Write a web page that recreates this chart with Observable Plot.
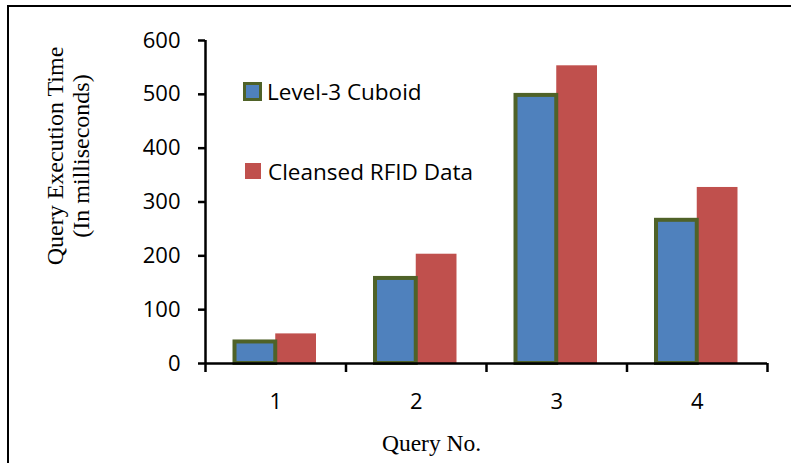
<!DOCTYPE html>
<html>
<head>
<meta charset="utf-8">
<script src="https://cdn.jsdelivr.net/npm/d3@7"></script>
<script src="https://cdn.jsdelivr.net/npm/@observablehq/plot@0.6"></script>
<style>
  html, body { margin: 0; padding: 0; background: #fff; overflow: hidden; }
  #wrap { position: relative; width: 791px; height: 463px; overflow: hidden; }
  #frame { position: absolute; left: 7px; top: 5px; width: 900px; height: 600px; border: 2px solid #000; pointer-events: none; }
  #chart { position: absolute; left: 0; top: 0; }
  .leg { position: absolute; font-family: "Open Sans", sans-serif; font-size: 22.5px; color: #000; display: flex; align-items: center; white-space: nowrap; }
  .sw { box-sizing: border-box; margin-right: 5px; }
</style>
</head>
<body>
<div id="wrap">
  <div id="chart"></div>
  <div id="frame"></div>
  <div class="leg" style="left:243px; top:76px; height:30px;"><div class="sw" style="width:19px;height:19px;background:#4F81BD;border:3px solid #4F6228;"></div><span id="l1"></span></div>
  <div class="leg" style="left:245px; top:156px; height:30px;"><div class="sw" style="width:16px;height:16px;background:#C0504D;margin-right:7px;"></div><span id="l2"></span></div>
</div>
<script>
const queries = [1, 2, 3, 4];
const level3Cuboid = [40, 158, 498, 266];
const cleansedRFID = [55, 203, 553, 327];
const seriesNames = ["Level-3 Cuboid", "Cleansed RFID Data"];
const yTicks = [0, 100, 200, 300, 400, 500, 600];
const xLabels = ["1", "2", "3", "4"];
const yTitle = "Query Execution Time\n(In milliseconds)";
const xTitle = "Query No.";

const colors = {blue: "#4F81BD", red: "#C0504D", outline: "#4F6228"};
const barW = 0.29;

const rows = queries.map((q, i) => ({q, a: level3Cuboid[i], b: cleansedRFID[i]}));
const boundaries = [0.5, ...queries.map(q => q + 0.5)];

document.getElementById("l1").textContent = seriesNames[0];
document.getElementById("l2").textContent = seriesNames[1];

const plot = Plot.plot({
  width: 791,
  height: 463,
  marginLeft: 205,
  marginRight: 24,
  marginTop: 40,
  marginBottom: 100,
  style: {background: "transparent", color: "#000"},
  x: {domain: [0.5, 4.5]},
  y: {domain: [0, 600]},
  marks: [
    Plot.rectY(rows, {x1: d => d.q, x2: d => d.q + barW, y1: 0, y2: "b", fill: colors.red}),
    Plot.rectY(rows, {x1: d => d.q - barW, x2: d => d.q, y1: 0, y2: "a", fill: colors.blue, stroke: colors.outline, strokeWidth: 4}),
    Plot.ruleX([0.5], {y1: 0, y2: 600, stroke: "#000", strokeWidth: 2.5}),
    Plot.ruleY([0], {stroke: "#000", strokeWidth: 2.5}),
    Plot.axisY({ticks: yTicks, tickSize: 7, tickPadding: 18, fontSize: 22, fontFamily: "Open Sans", strokeWidth: 2.5, label: null}),
    Plot.axisX({ticks: boundaries, tickSize: 9, tickFormat: () => "", strokeWidth: 2.5, label: null}),
    Plot.axisX({ticks: queries, tickSize: 0, tickPadding: 30, tickFormat: (d, i) => xLabels[i], fontSize: 22, fontFamily: "Open Sans", label: null}),
    Plot.text([yTitle], {frameAnchor: "left", rotate: -90, dx: -138, dy: -46, lineAnchor: "middle", textAnchor: "middle", fontSize: 24, fontFamily: "Liberation Serif", lineHeight: 1.1, fill: "#000"}),
    Plot.text([xTitle], {frameAnchor: "bottom", dx: -55, dy: 80, lineAnchor: "middle", fontSize: 23.5, fontFamily: "Liberation Serif", fill: "#000"})
  ]
});
document.getElementById("chart").appendChild(plot);
</script>
</body>
</html>
